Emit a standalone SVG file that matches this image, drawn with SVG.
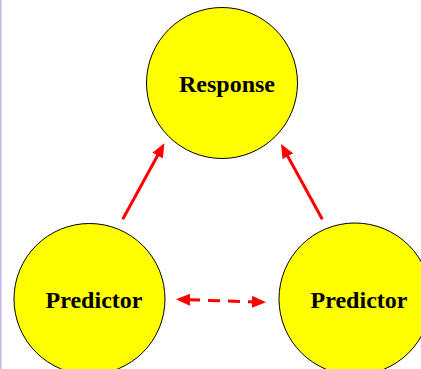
<svg xmlns="http://www.w3.org/2000/svg" width="421" height="369" viewBox="0 0 421 369">
  <defs>
    <style>
      .node circle { fill: #ffff00; stroke: #000000; stroke-width: 1; }
      .node text { font-family: "Liberation Serif", "Times New Roman", serif; font-weight: bold; font-size: 24px; fill: #000000; text-anchor: middle; }
      .edge { stroke: #ff0000; stroke-width: 3; fill: none; }
      .dashed { stroke-dasharray: 12 8; stroke-dashoffset: 16; }
    </style>
    <marker id="arrow" viewBox="0 0 14 12" markerUnits="userSpaceOnUse" markerWidth="14" markerHeight="12" refX="6" refY="6" orient="auto-start-reverse">
      <path d="M0,0 L14,6 L0,12 z" fill="#ff0000"/>
    </marker>
  </defs>
  <rect x="0" y="0" width="421" height="369" fill="#ffffff"/>
  <rect x="0" y="0" width="1.5" height="369" fill="#c8b4e6"/>

  <g id="node-response" class="node">
    <circle cx="222" cy="83" r="75.5"/>
    <text x="227" y="91.5">Response</text>
  </g>
  <g id="node-predictor-left" class="node">
    <circle cx="89.5" cy="299" r="75.5"/>
    <text x="94" y="307.5">Predictor</text>
  </g>
  <g id="node-predictor-right" class="node">
    <circle cx="355" cy="299" r="76"/>
    <text x="359" y="307.5">Predictor</text>
  </g>

  <g id="connectors">
    <line class="edge" x1="122.7" y1="219.3" x2="160.5" y2="150.3" marker-end="url(#arrow)"/>
    <line class="edge" x1="322.3" y1="219.3" x2="284.9" y2="151" marker-end="url(#arrow)"/>
    <line class="edge dashed" x1="184" y1="299.6" x2="258" y2="302" marker-start="url(#arrow)" marker-end="url(#arrow)"/>
  </g>
</svg>
